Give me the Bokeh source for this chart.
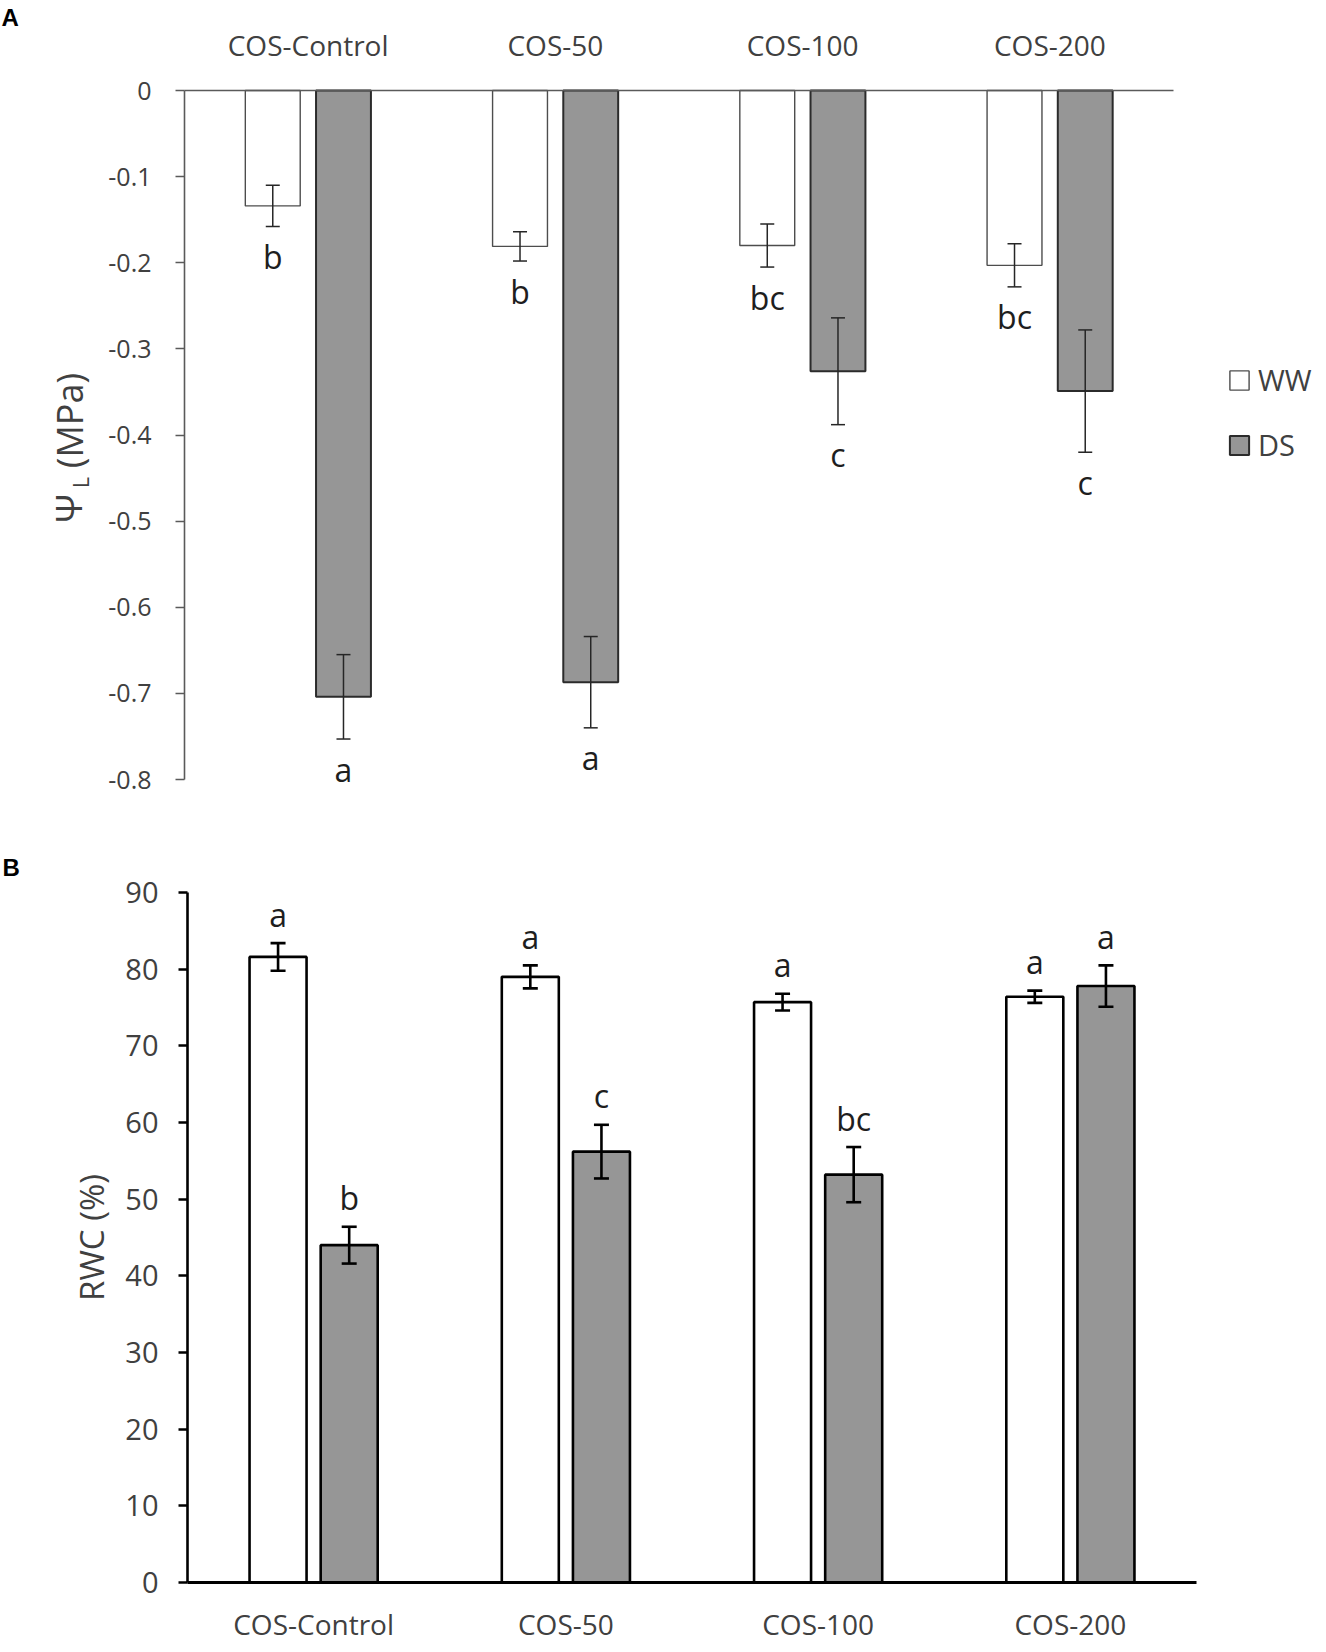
import math
from bokeh.plotting import figure
from bokeh.models import (ColumnDataSource, Range1d, FixedTicker, LinearAxis,
                          Whisker, TeeHead, Legend, LegendItem, Label)
from bokeh.transform import dodge
from bokeh.layouts import column
from bokeh.core.properties import value
from bokeh.embed import file_html
from bokeh.resources import INLINE

FONT = "Open Sans"

# ---------------- data ----------------
categories = ["COS-Control", "COS-50", "COS-100", "COS-200"]
series = ["WW", "DS"]

# Panel A: leaf water potential (MPa)
psi_ww = [-0.134, -0.181, -0.180, -0.203]
psi_ww_err = [0.024, 0.017, 0.025, 0.025]
psi_ds = [-0.704, -0.687, -0.326, -0.349]
psi_ds_err = [0.049, 0.053, 0.062, 0.071]
psi_ww_letters = ["b", "b", "bc", "bc"]
psi_ds_letters = ["a", "a", "c", "c"]
psi_ticks = [0, -0.1, -0.2, -0.3, -0.4, -0.5, -0.6, -0.7, -0.8]
psi_tick_labels = ["0", "-0.1", "-0.2", "-0.3", "-0.4", "-0.5", "-0.6", "-0.7", "-0.8"]

# Panel B: relative water content (%)
rwc_ww = [81.6, 79.0, 75.7, 76.4]
rwc_ww_err = [1.8, 1.5, 1.1, 0.8]
rwc_ds = [44.0, 56.2, 53.2, 77.8]
rwc_ds_err = [2.4, 3.5, 3.6, 2.7]
rwc_ww_letters = ["a", "a", "a", "a"]
rwc_ds_letters = ["b", "c", "bc", "a"]
rwc_ticks = [0, 10, 20, 30, 40, 50, 60, 70, 80, 90]
rwc_tick_labels = ["0", "10", "20", "30", "40", "50", "60", "70", "80", "90"]

# category slots on a numeric axis (one unit per category)
N = len(categories)
cat_pos = [i + 0.5 for i in range(N)]

DS_FILL = "#969696"
TXT = "#404040"
W = 1318


class Panel:
    """Figure whose frame is the whole canvas; the plotting area is placed
    at the given pixel box and axes are pinned with fixed_location."""

    def __init__(self, h, px_l, px_r, px_t, px_b, y_lo, y_hi):
        self.px_l, self.px_t = px_l, px_t
        self.ux = (px_r - px_l) / N
        self.uy = (px_b - px_t) / (y_hi - y_lo)
        self.y_hi = y_hi
        xr = Range1d(-px_l / self.ux, N + (W - px_r) / self.ux)
        yr = Range1d(y_lo - (h - px_b) / self.uy, y_hi + px_t / self.uy)
        p = figure(frame_width=W, frame_height=h, x_range=xr, y_range=yr,
                   x_axis_type=None, y_axis_type=None, min_border=0,
                   output_backend="svg", toolbar_location=None)
        p.xgrid.visible = False
        p.ygrid.visible = False
        p.outline_line_color = None
        p.background_fill_color = "white"
        p.border_fill_color = "white"
        self.p = p

    def dx(self, px):
        return (px - self.px_l) / self.ux

    def dy(self, py):
        return self.y_hi - (py - self.px_t) / self.uy


def style_axis(ax, color, width, size):
    ax.axis_line_color = color
    ax.axis_line_width = width
    ax.major_tick_line_color = color
    ax.major_tick_line_width = width
    ax.minor_tick_line_color = None
    ax.major_tick_in = 0
    ax.major_label_text_font = FONT
    ax.major_label_text_color = TXT
    ax.major_label_text_font_size = size


def make_source(vals_ww, err_ww, vals_ds, err_ds, lab_ww, lab_ds):
    return ColumnDataSource(dict(
        pos=cat_pos, cat=categories,
        ww=vals_ww, ds=vals_ds,
        ww_lo=[v - e for v, e in zip(vals_ww, err_ww)],
        ww_hi=[v + e for v, e in zip(vals_ww, err_ww)],
        ds_lo=[v - e for v, e in zip(vals_ds, err_ds)],
        ds_hi=[v + e for v, e in zip(vals_ds, err_ds)],
        ww_lab=lab_ww, ds_lab=lab_ds,
    ))


# ---------------- Panel A ----------------
PA = Panel(820, 184, 1173, 90, 779, -0.8, 0)
pA = PA.p
srcA = make_source(psi_ww, psi_ww_err, psi_ds, psi_ds_err, psi_ww_letters, psi_ds_letters)
OFF = 0.143
A_LINE = "#5a5a5a"
rA_ww = pA.vbar(x=dodge("pos", -OFF), top="ww", bottom=0, width=0.222,
                source=srcA, fill_color="white", line_color="#4d4d4d", line_width=1.4)
rA_ds = pA.vbar(x=dodge("pos", OFF), top="ds", bottom=0, width=0.222,
                source=srcA, fill_color=DS_FILL, line_color="#2b2b2b", line_width=2)

for fld, off in (("ww", -OFF), ("ds", OFF)):
    w = Whisker(source=srcA, base=dodge("pos", off),
                upper=fld + "_hi", lower=fld + "_lo",
                line_color="#262626", line_width=1.5, level="overlay")
    w.upper_head = TeeHead(size=14, line_color="#262626", line_width=1.5)
    w.lower_head = TeeHead(size=14, line_color="#262626", line_width=1.5)
    pA.add_layout(w)
    pA.text(x=dodge("pos", off), y=fld + "_lo", text=fld + "_lab",
            source=srcA, y_offset=30, text_align="center", text_baseline="middle",
            text_font=value(FONT), text_font_size="32px", text_color="#1e1e1e")

xA = LinearAxis(fixed_location=0, bounds=(0, N), ticker=FixedTicker(ticks=cat_pos),
                major_label_overrides={x: c for x, c in zip(cat_pos, categories)})
style_axis(xA, A_LINE, 1.6, "28px")
xA.major_tick_line_color = None
xA.major_tick_out = 0
xA.major_label_standoff = 27
pA.add_layout(xA, "above")

yA = LinearAxis(fixed_location=0, bounds=(-0.8, 0), ticker=FixedTicker(ticks=psi_ticks),
                major_label_overrides={t: s for t, s in zip(psi_ticks, psi_tick_labels)})
style_axis(yA, A_LINE, 1.6, "25px")
yA.major_tick_out = 9
yA.major_label_standoff = 24
pA.add_layout(yA, "left")

# y-axis title  Ψ_L (MPa), drawn as rotated text pieces
for txt, px, py, size in (("Ψ", 68, 508, "36px"),
                          ("L", 80, 482, "21px"),
                          ("(MPa)", 68.5, 420, "36px")):
    pA.add_layout(Label(x=PA.dx(px), y=PA.dy(py), text=txt, angle=math.pi / 2,
                        text_align="center", text_baseline="middle",
                        text_font=FONT, text_font_size=size, text_color=TXT))
pA.add_layout(Label(x=PA.dx(1), y=PA.dy(3.5), text="A", text_align="left",
                    text_baseline="top", text_font="Liberation Sans",
                    text_font_style="bold", text_font_size="24px", text_color="black"))

legend = Legend(items=[LegendItem(label=series[0], renderers=[rA_ww]),
                       LegendItem(label=series[1], renderers=[rA_ds])],
                location=(1227, 820 - 464), orientation="vertical",
                glyph_width=24, glyph_height=24, label_standoff=7, label_height=38,
                label_text_font=FONT, label_text_font_size="29px",
                label_text_color=TXT, spacing=26, padding=0, margin=0,
                border_line_color=None, background_fill_alpha=0)
pA.add_layout(legend)

# ---------------- Panel B ----------------
PB = Panel(824, 187, 1196, 72, 762, 0, 90)
pB = PB.p
srcB = make_source(rwc_ww, rwc_ww_err, rwc_ds, rwc_ds_err, rwc_ww_letters, rwc_ds_letters)
OFFB = 0.141
pB.vbar(x=dodge("pos", -OFFB), top="ww", bottom=0, width=0.226,
        source=srcB, fill_color="white", line_color="black", line_width=2.6)
pB.vbar(x=dodge("pos", OFFB), top="ds", bottom=0, width=0.226,
        source=srcB, fill_color=DS_FILL, line_color="black", line_width=2.6)

for fld, off in (("ww", -OFFB), ("ds", OFFB)):
    w = Whisker(source=srcB, base=dodge("pos", off),
                upper=fld + "_hi", lower=fld + "_lo",
                line_color="black", line_width=2.6, level="overlay")
    w.upper_head = TeeHead(size=15, line_color="black", line_width=2.6)
    w.lower_head = TeeHead(size=15, line_color="black", line_width=2.6)
    pB.add_layout(w)
    pB.text(x=dodge("pos", off), y=fld + "_hi", text=fld + "_lab",
            source=srcB, y_offset=-29, text_align="center", text_baseline="middle",
            text_font=value(FONT), text_font_size="32px", text_color="#1e1e1e")

xB = LinearAxis(fixed_location=0, bounds=(0, N), ticker=FixedTicker(ticks=cat_pos),
                major_label_overrides={x: c for x, c in zip(cat_pos, categories)})
style_axis(xB, "black", 3, "28px")
xB.major_tick_line_color = None
xB.major_tick_out = 0
xB.major_label_standoff = 22
pB.add_layout(xB, "below")

yB = LinearAxis(fixed_location=0, bounds=(0, 90), ticker=FixedTicker(ticks=rwc_ticks),
                major_label_overrides={t: s for t, s in zip(rwc_ticks, rwc_tick_labels)})
style_axis(yB, "black", 2.6, "29px")
yB.major_tick_out = 9
yB.major_label_standoff = 20
yB.axis_label = "RWC (%)"
yB.axis_label_text_font = FONT
yB.axis_label_text_font_style = "normal"
yB.axis_label_text_font_size = "33px"
yB.axis_label_text_color = TXT
yB.axis_label_standoff = 8
pB.add_layout(yB, "left")

pB.add_layout(Label(x=PB.dx(2), y=PB.dy(33.5), text="B", text_align="left",
                    text_baseline="top", text_font="Liberation Sans",
                    text_font_style="bold", text_font_size="24px", text_color="black"))

layout = column(pA, pB)
open("out.html", "w").write(file_html(layout, INLINE))
